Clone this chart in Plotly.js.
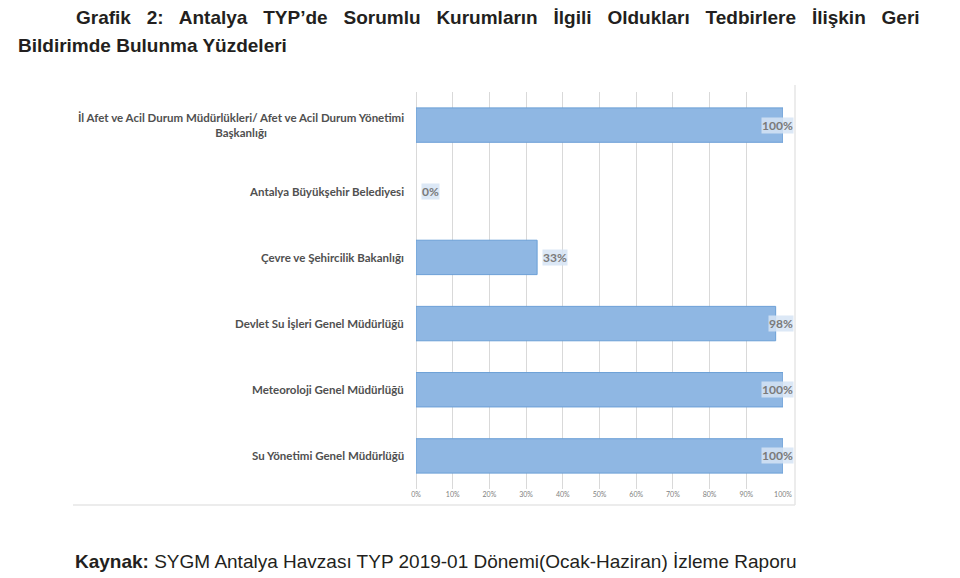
<!DOCTYPE html>
<html><head><meta charset="utf-8">
<script src="https://cdn.plot.ly/plotly-3.0.1.min.js"></script>
<style>body{margin:0;background:#fff}#c{width:960px;height:578px}</style>
</head><body><div id="c"></div>
<script>
var categories = [
  "İl Afet ve Acil Durum Müdürlükleri/ Afet ve Acil Durum Yönetimi<br>Başkanlığı",
  "Antalya Büyükşehir Belediyesi",
  "Çevre ve Şehircilik Bakanlığı",
  "Devlet Su İşleri Genel Müdürlüğü",
  "Meteoroloji Genel Müdürlüğü",
  "Su Yönetimi Genel Müdürlüğü"
];
var values = [100, 0, 33, 98, 100, 100];
var tickVals = [0,10,20,30,40,50,60,70,80,90,100];
var tickText = ["0%","10%","20%","30%","40%","50%","60%","70%","80%","90%","100%"];

var L = 416, R = 783, W = 960, H = 578;
var plotW = R - L;
function px2paper(p){ return (p - L) / plotW; }
function yPaper(py){ return 1 - (py - 92) / (489 - 92); }

var ann = [];
categories.forEach(function(c, i){
  ann.push({xref:'paper', yref:'y', x:0, y:c, xanchor:'right', yanchor:'middle', xshift:-10,
    text:c, showarrow:false, align:'center',
    font:{family:'Lato, "Open Sans", sans-serif', size:11.5, color:'#505050', weight:'bold'}});
  var v = values[i];
  var endPx = L + v/100*plotW;
  var a = {xref:'x', yref:'y', x:v, y:c, yanchor:'middle', showarrow:false, text:v + '%',
    bgcolor:'rgba(214,228,244,0.85)', borderpad:0,
    font:{family:'Lato, "Open Sans", sans-serif', size:12, color:'#7a7a7a', weight:'bold'}};
  if (endPx + 32 > 795) { a.xanchor = 'right'; a.xshift = 794 - endPx; }
  else { a.xanchor = 'left'; a.xshift = 5; }
  ann.push(a);
});

var NB = '\u00a0\u00a0';
var titleWords = "Grafik 2: Antalya TYP’de Sorumlu Kurumların İlgili Oldukları Tedbirlere İlişkin Geri".split(' ');
var titleFont = {family:'"Liberation Sans", Arial, sans-serif', size:19, color:'#231f20'};
ann.push({xref:'paper', yref:'paper', x:px2paper(74), y:yPaper(17), xanchor:'left', yanchor:'middle', showarrow:false,
  text:'<b>' + titleWords.join(NB + ' ') + '</b>', font:titleFont});
ann.push({xref:'paper', yref:'paper', x:px2paper(16), y:yPaper(45), xanchor:'left', yanchor:'middle', showarrow:false,
  text:'<b>Bildirimde Bulunma Yüzdeleri</b>', font:titleFont});
ann.push({xref:'paper', yref:'paper', x:px2paper(73), y:yPaper(561), xanchor:'left', yanchor:'middle', showarrow:false,
  text:'<b>Kaynak:</b> SYGM Antalya Havzası TYP 2019-01 Dönemi(Ocak-Haziran) İzleme Raporu',
  font:titleFont});

var shapes = [
  {type:'line', xref:'paper', yref:'paper', x0:px2paper(73), x1:px2paper(795), y0:yPaper(505), y1:yPaper(505), line:{color:'#e6e6e6', width:1.5}},
  {type:'line', xref:'paper', yref:'paper', x0:px2paper(795), x1:px2paper(795), y0:yPaper(85), y1:yPaper(505), line:{color:'#e6e6e6', width:1.5}}
];

var trace = {type:'bar', orientation:'h', x:values, y:categories,
  marker:{color:'#8fb7e3', line:{color:'#6b9fd6', width:values.map(function(v){return v > 0 ? 1 : 0;})}},
  width:0.52, hoverinfo:'none'};

var layout = {
  width:W, height:H, margin:{l:L, r:W-R, t:92, b:H-489}, paper_bgcolor:'#fff', plot_bgcolor:'#fff',
  showlegend:false, annotations:ann, shapes:shapes,
  xaxis:{range:[0,100], tickvals:tickVals, ticktext:tickText, showgrid:true, gridcolor:'#d9d9d9', gridwidth:1,
    zeroline:true, zerolinecolor:'#d9d9d9', ticks:'', showline:false,
    tickfont:{family:'Lato, sans-serif', size:7, color:'#7f7f7f'}, fixedrange:true},
  yaxis:{autorange:'reversed', showticklabels:false, ticks:'', showgrid:false, zeroline:false, showline:false, fixedrange:true}
};
Plotly.newPlot('c', [trace], layout, {displayModeBar:false, staticPlot:true});
</script></body></html>
